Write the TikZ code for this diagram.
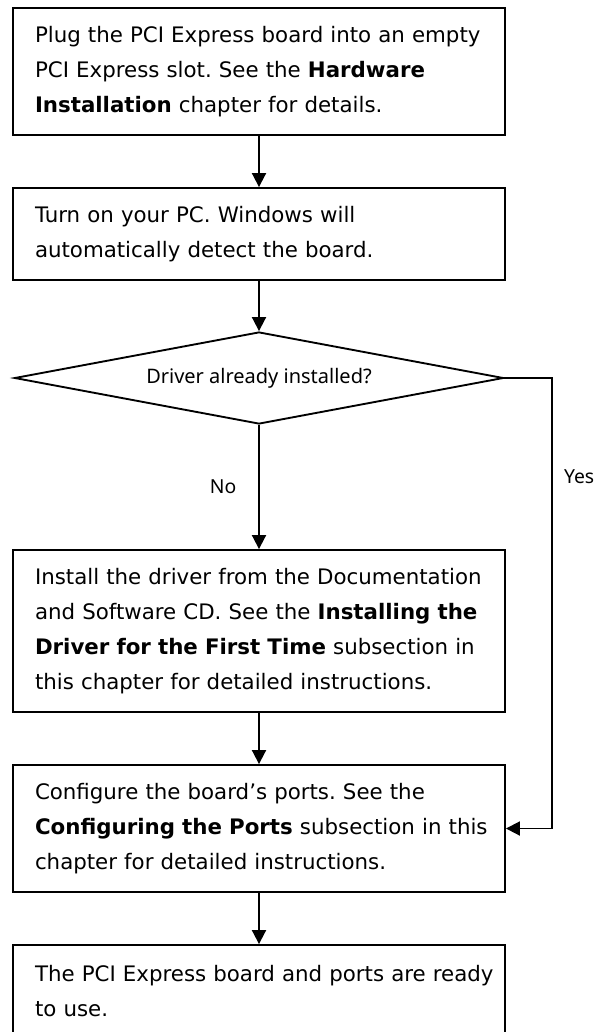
\documentclass[tikz,border=0pt]{standalone}
\usepackage{fontspec}
\setmainfont{DejaVu Sans}
\newfontfamily\labelfont{Noto Sans}
\usepackage{tikz}
\usetikzlibrary{shapes.geometric,arrows.meta}
\newcommand{\boxline}[1]{\mbox{#1}}
\frenchspacing

\tikzset{
  stepbox/.style={draw, line width=1.4pt, text width=336pt, inner xsep=16.5pt, inner ysep=0pt,
    align=left, font=\fontsize{16pt}{26.25pt}\selectfont},
  decision/.style={draw, diamond, line width=1.4pt, aspect=5.3, minimum width=366.75pt,
    minimum height=69pt, inner sep=0pt, font=\labelfont\fontsize{15pt}{17pt}\selectfont},
  flow/.style={line width=1.4pt, -{Triangle[length=10.5pt,width=10.5pt]}},
  answer/.style={font=\labelfont\fontsize{14.5pt}{17pt}\selectfont}
}

\begin{document}
\begin{tikzpicture}[x=0.75pt, y=-0.75pt]
    \useasboundingbox (0,0) rectangle (599,1032);
    \clip (0,0) rectangle (599,1032);

    \node[stepbox, minimum height=95.25pt] (plug) at (259,71.5)
      {\boxline{Plug the PCI Express board into an empty}\\
       \boxline{PCI Express slot. See the \textbf{Hardware}}\\
       \boxline{\textbf{Installation} chapter for details.}};
    \node[stepbox, minimum height=69pt] (power) at (259,234)
      {\boxline{Turn on your PC. Windows will}\\
       \boxline{automatically detect the board.}};
    \node[decision] (check) at (259,378) {Driver already installed?};
    \node[stepbox, minimum height=121.5pt] (install) at (259,631)
      {\boxline{Install the driver from the Documentation}\\
       \boxline{and Software CD. See the \textbf{Installing the}}\\
       \boxline{\textbf{Driver for the First Time} subsection in}\\
       \boxline{this chapter for detailed instructions.}};
    \node[stepbox, minimum height=95.25pt] (ports) at (259,828.5)
      {\boxline{Configure the board’s ports. See the}\\
       \boxline{\textbf{Configuring the Ports} subsection in this}\\
       \boxline{chapter for detailed instructions.}};
    \node[stepbox, minimum height=69pt] (ready) at (259,991)
      {\boxline{The PCI Express board and ports are ready}\\
       \boxline{to use.}};
    \coordinate (turn) at (552,378);

    \draw[flow] (plug) -- (power);
    \draw[flow] (power) -- (check);
    \draw[flow] (check) -- (install) node[midway, left=13pt, answer] {No};
    \draw[flow] (check.east) -- (turn) -- (turn |- ports.east)
      node[pos=0.22, right=5pt, answer] {Yes} -- (ports.east);
    \draw[flow] (install) -- (ports);
    \draw[flow] (ports) -- (ready);

\end{tikzpicture}
\end{document}
